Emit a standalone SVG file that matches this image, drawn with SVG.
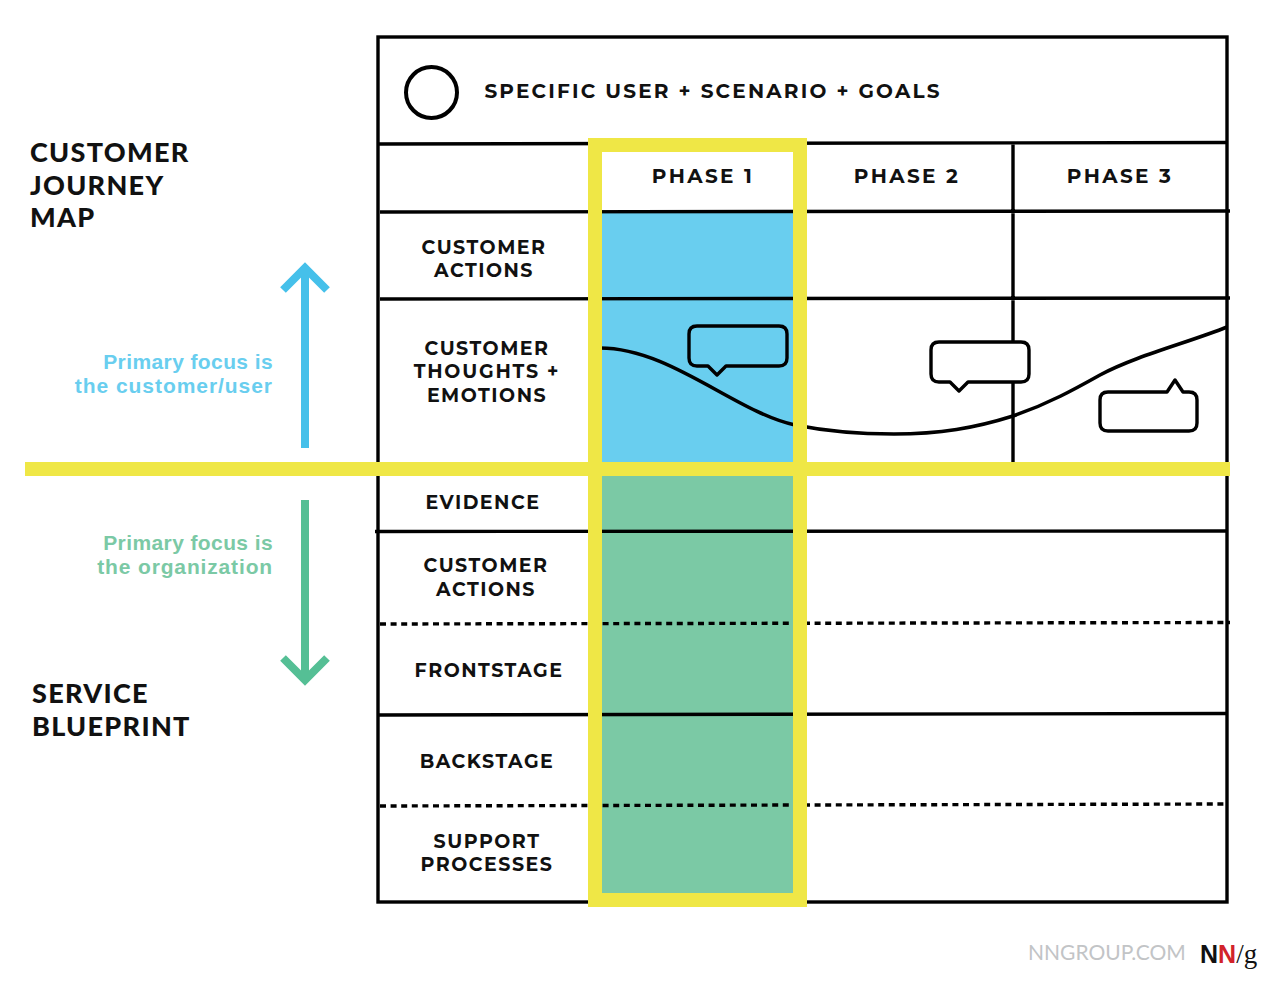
<svg xmlns="http://www.w3.org/2000/svg" width="1267" height="988" viewBox="0 0 1267 988">
<style>
.g{fill:none;stroke:#000;stroke-width:3.4}
.d{fill:none;stroke:#000;stroke-width:3.4;stroke-dasharray:6 4.6}
.b{fill:#fff;stroke:#000;stroke-width:3.4;stroke-linejoin:round}
.t{font-family:"Montserrat","Lato","Liberation Sans",sans-serif;font-weight:700;fill:#111;font-size:19px;letter-spacing:1.5px;text-anchor:middle}
.p{font-size:20px;letter-spacing:2.400px}
.h{font-family:"Lato","Liberation Sans",sans-serif;font-weight:900;fill:#111;font-size:27px;letter-spacing:1.300px}
.f{font-family:"Liberation Sans",sans-serif;font-weight:700;font-size:21px;text-anchor:end}
</style>
<rect width="1267" height="988" fill="#fff"/>
<g id="phase-fills">
<rect x="600" y="212" width="195" height="252" fill="#69ceef"/>
<rect x="600" y="474" width="195" height="421" fill="#7bc9a5"/>
</g>
<g id="grid">
<rect class="g" x="378" y="37" width="849" height="865"/>
<path class="g" d="M378 144 1227 142.500M380 212 1230 211M380 299 1230 298M375 531.500 1227 531M378 715 1227 713.500M1013 143V462"/>
<path class="d" d="M380 624 1230 622.500M380 806 1227 804"/>
</g>
<g id="persona"><circle cx="431.500" cy="92.500" r="25.500" fill="none" stroke="#000" stroke-width="4"/>
<text class="t" x="713" y="98" style="font-size:20px;letter-spacing:2.200px">SPECIFIC USER + SCENARIO + GOALS</text></g>
<g id="phases">
<text class="t p" x="703" y="183">PHASE 1</text>
<text class="t p" x="907" y="183">PHASE 2</text>
<text class="t p" x="1120" y="183">PHASE 3</text>
</g>
<g id="row-labels">
<text class="t" x="484" y="254">CUSTOMER</text><text class="t" x="484" y="277">ACTIONS</text>
<text class="t" x="487" y="355">CUSTOMER</text><text class="t" x="487" y="378" style="letter-spacing:1.800px">THOUGHTS +</text><text class="t" x="487" y="402">EMOTIONS</text>
<text class="t" x="483" y="509">EVIDENCE</text>
<text class="t" x="486" y="572">CUSTOMER</text><text class="t" x="486" y="596">ACTIONS</text>
<text class="t" x="489" y="677">FRONTSTAGE</text>
<text class="t" x="487" y="768">BACKSTAGE</text>
<text class="t" x="487" y="848">SUPPORT</text><text class="t" x="487" y="871">PROCESSES</text>
</g>
<g id="emotion-curve">
<path d="M600 348C670 348 735 412 795 425C825 431 860 434 894 434C940 434 975 428 1013 416C1048 404 1075 389 1100 375C1135 356 1190 342 1227 327" fill="none" stroke="#000" stroke-width="3.6"/>
</g>
<g id="bubble-1"><path class="b" style="fill:none" d="M697 326H779Q787 326 787 334V358Q787 366 779 366H726L717 375 708 366H697Q689 366 689 358V334Q689 326 697 326Z"/></g>
<g id="bubble-2"><path class="b" d="M939 342H1021Q1029 342 1029 350V374Q1029 382 1021 382H968L959 391 950 382H939Q931 382 931 374V350Q931 342 939 342Z"/></g>
<g id="bubble-3"><path class="b" d="M1108 392H1167L1175 380 1183 392H1189Q1197 392 1197 400V423Q1197 431 1189 431H1108Q1100 431 1100 423V400Q1100 392 1108 392Z"/></g>
<g id="highlight">
<rect x="595" y="145" width="205" height="755" fill="none" stroke="#efe746" stroke-width="14"/>
<rect x="25" y="462" width="1205" height="14" fill="#efe746"/>
</g>
<g id="titles">
<text class="h" x="30" y="162">CUSTOMER</text><text class="h" x="30" y="195">JOURNEY</text><text class="h" x="30" y="227">MAP</text>
<text class="h" x="32" y="703">SERVICE</text><text class="h" x="32" y="736">BLUEPRINT</text>
</g>
<g id="connectors">
<path d="M305 448V268M283 290 305 268 327 290" fill="none" stroke="#45c0ea" stroke-width="8"/>
<path d="M305 500V680M283 658 305 680 327 658" fill="none" stroke="#55bf95" stroke-width="8"/>
</g>
<g id="focus-labels">
<text class="f" x="273" y="369" fill="#69ceef" letter-spacing=".4">Primary focus is</text>
<text class="f" x="273" y="393" fill="#69ceef" letter-spacing=".95">the customer/user</text>
<text class="f" x="273" y="550" fill="#7bc9a5" letter-spacing=".4">Primary focus is</text>
<text class="f" x="273" y="574" fill="#7bc9a5" letter-spacing=".85">the organization</text>
</g>
<g id="footer">
<text x="1028" y="960" font-family="Lato,'Liberation Sans',sans-serif" font-size="21" fill="#c2c4c6">NNGROUP.COM</text>
<text x="1200" y="963" font-family="'Liberation Sans',sans-serif" font-weight="700" font-size="25" fill="#111">N<tspan fill="#d2232a">N</tspan><tspan font-family="'Liberation Serif',serif" font-weight="400" fill="#111" font-size="27">/g</tspan></text>
</g>
</svg>
